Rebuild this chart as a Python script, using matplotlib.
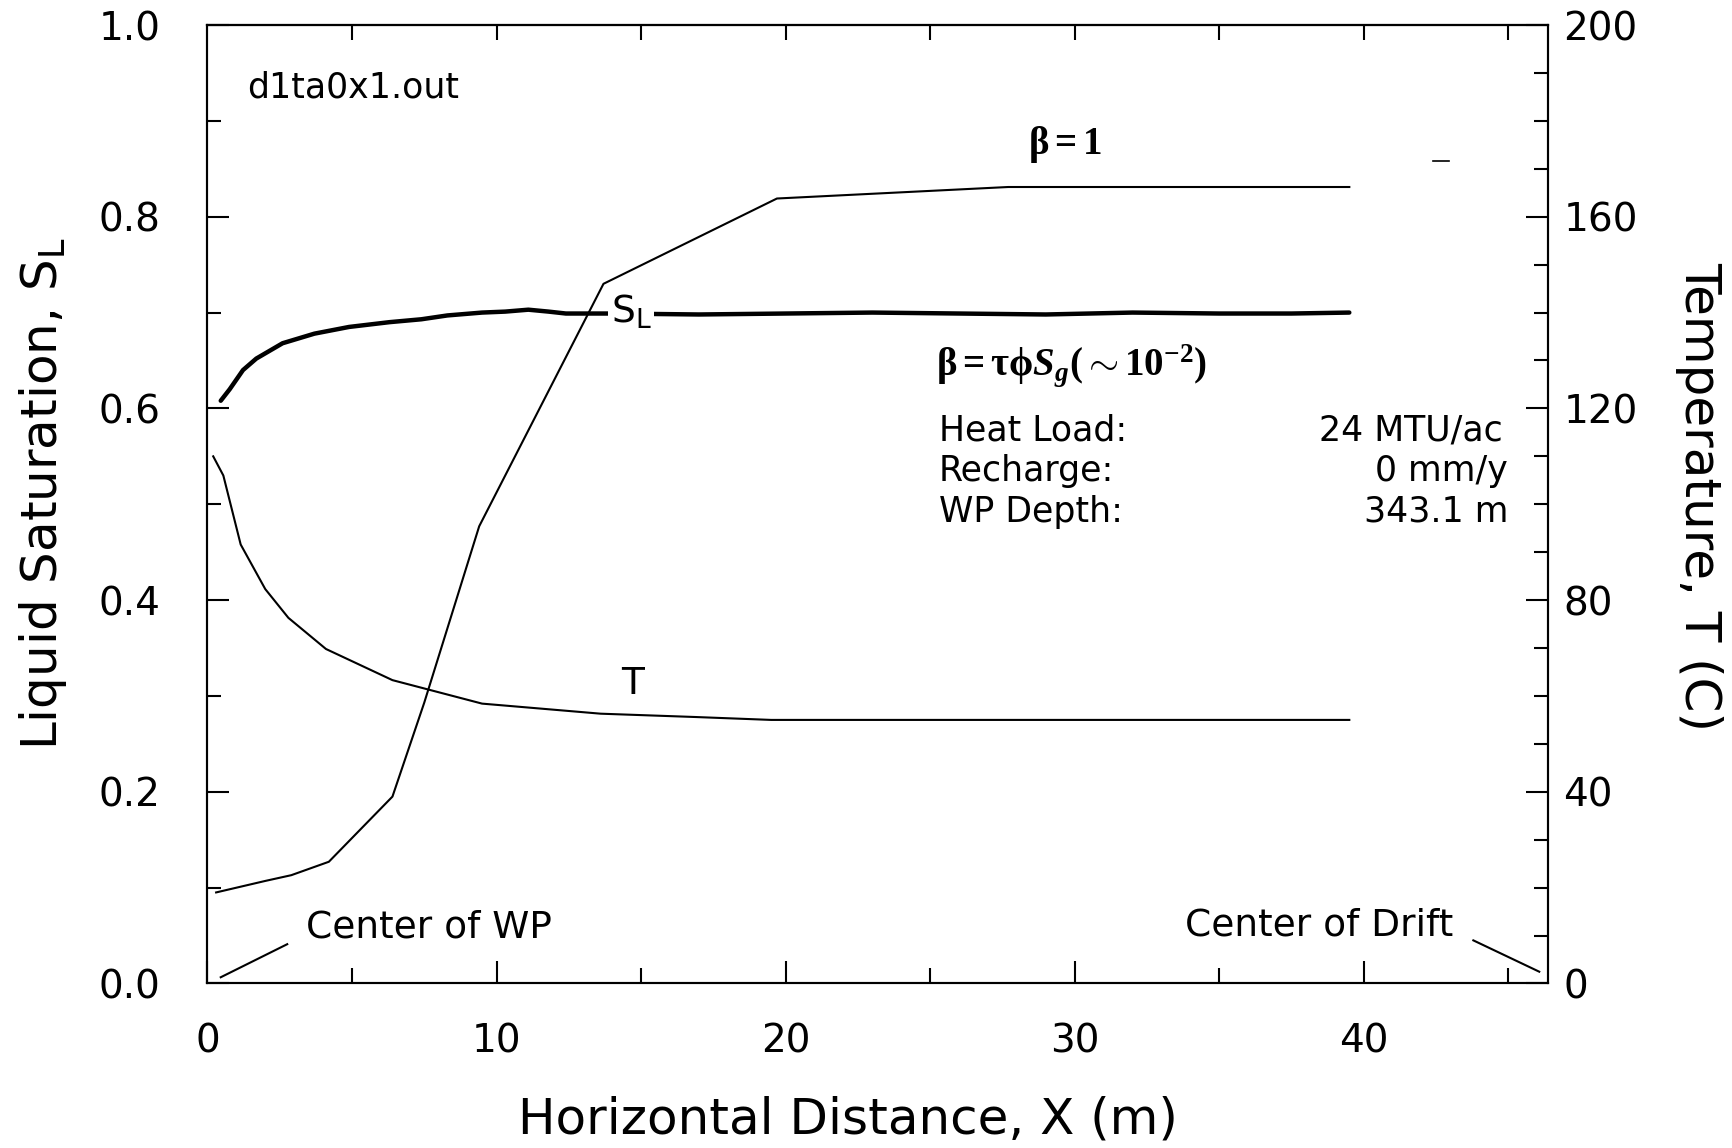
import matplotlib
matplotlib.use("Agg")
import matplotlib.pyplot as plt

# ---------------- data ----------------
# Liquid saturation, beta = tau*phi*Sg (~1e-2)  (thick curve)
x_sl_small = [0.46, 0.77, 1.23, 1.69, 2.6, 3.7, 4.9, 6.3, 7.4, 8.3, 9.5, 10.3,
              11.1, 11.8, 12.4, 14.0, 17.0, 20.0, 23.0, 26.0, 29.0, 32.0,
              35.0, 37.5, 39.5]
sl_small = [0.608, 0.620, 0.640, 0.652, 0.668, 0.678, 0.685, 0.690, 0.693,
            0.697, 0.700, 0.701, 0.703, 0.701, 0.699, 0.699, 0.698, 0.699,
            0.700, 0.699, 0.698, 0.700, 0.699, 0.699, 0.700]

# Liquid saturation, beta = 1  (thin curve)
x_sl_one = [0.3, 2.0, 2.9, 4.2, 6.4, 7.5, 9.4, 13.7, 19.7, 27.7, 39.5]
sl_one = [0.095, 0.107, 0.113, 0.127, 0.195, 0.293, 0.477, 0.730, 0.819,
          0.831, 0.831]

# Temperature (right axis, deg C)
x_temp = [0.2, 0.55, 1.15, 2.0, 2.8, 4.1, 6.4, 9.5, 13.6, 16.9, 19.5, 25.0,
          30.0, 35.0, 39.5]
temp = [110, 106, 91.6, 82.3, 76.3, 69.8, 63.3, 58.4, 56.3, 55.6, 55.0, 55.0,
        55.0, 55.0, 55.0]

x_major = [0, 10, 20, 30, 40]
x_minor = [5, 15, 25, 35, 45]
x_top = [5, 10, 15, 20, 25, 30, 35, 40, 45]
sl_major = [0.0, 0.2, 0.4, 0.6, 0.8, 1.0]
sl_minor = [0.1, 0.3, 0.5, 0.7, 0.9]
t_major = [0, 40, 80, 120, 160, 200]
t_minor = [10, 20, 30, 50, 60, 70, 90, 100, 110, 130, 140, 150, 170, 180, 190]
x_labels = ["0", "10", "20", "30", "40"]
sl_labels = ["0.0", "0.2", "0.4", "0.6", "0.8", "1.0"]
t_labels = ["0", "40", "80", "120", "160", "200"]

# leader lines / small marks for annotations
wp_leader_x = [0.46, 2.76]
wp_leader_y = [0.0065, 0.041]
drift_leader_x = [43.79, 46.07]
drift_leader_y = [0.045, 0.0123]
stray_x = [42.4, 42.95]
stray_y = [0.858, 0.858]

# ---------------- styling ----------------
plt.rcParams['font.family'] = ['DejaVu Sans']
plt.rcParams['mathtext.rm'] = 'Liberation Serif:bold'
plt.rcParams['mathtext.it'] = 'Liberation Serif:italic:bold'
plt.rcParams['mathtext.bf'] = 'Liberation Serif:bold'

W, H = 1733, 1148
fig = plt.figure(figsize=(W / 100, H / 100), dpi=100)
ax = fig.add_axes([0.1197, 0.1433, 0.7735, 0.8349])

lw_thin = 1.5
ax.plot(x_sl_one, sl_one, color='black', lw=lw_thin)
ax.plot(x_sl_small, sl_small, color='black', lw=3.2, solid_capstyle='round')

ax.set_xlim(0, 46.37)
ax.set_ylim(0, 1.0)

ax2 = ax.twinx()
ax2.plot(x_temp, temp, color='black', lw=lw_thin)
ax2.set_ylim(0, 200)

for sp in list(ax.spines.values()) + list(ax2.spines.values()):
    sp.set_linewidth(1.5)

tick_fs = 28
ax.set_xticks(x_major)
ax.set_xticks(x_minor, minor=True)
ax.set_xticklabels(x_labels, fontsize=tick_fs)
ax.set_yticks(sl_major)
ax.set_yticks(sl_minor, minor=True)
ax.set_yticklabels(sl_labels, fontsize=tick_fs)
ax.tick_params(axis='x', which='both', direction='in', bottom=True, top=False,
               width=1.5, pad=28)
ax.tick_params(axis='x', which='major', length=16)
ax.tick_params(axis='x', which='minor', length=11)
ax.tick_params(axis='y', which='both', direction='in', left=True, right=False,
               width=1.5, pad=34)
ax.tick_params(axis='y', which='major', length=16)
ax.tick_params(axis='y', which='minor', length=10)

ax2.set_yticks(t_major)
ax2.set_yticks(t_minor, minor=True)
ax2.set_yticklabels(t_labels, fontsize=tick_fs)
ax2.tick_params(axis='y', which='both', direction='in', right=True, left=False,
                width=1.5, pad=11)
ax2.tick_params(axis='y', which='major', length=16)
ax2.tick_params(axis='y', which='minor', length=10)

sec = ax.secondary_xaxis('top')
sec.set_xticks(x_top)
sec.tick_params(direction='in', length=11, width=1.5, labeltop=False)
sec.spines['top'].set_linewidth(1.5)

# axis titles
fig.text(43 / W, 1 - 494 / H, r'Liquid Saturation, S$_\mathregular{L}$',
         rotation=90, ha='center', va='center', fontsize=36)
fig.text(1699 / W, 1 - 497 / H, 'Temperature, T (C)', rotation=270,
         ha='center', va='center', fontsize=36)
fig.text(848 / W, 1 - 1120 / H, 'Horizontal Distance, X (m)',
         ha='center', va='center', fontsize=36)

# in-plot annotations
txt_fs = 27
ax.text(1.37, 0.935, 'd1ta0x1.out', fontsize=25, ha='left', va='center')
ax.text(29.66, 0.875, r'$\mathrm{\beta=1}$', fontsize=28, ha='center',
        va='center', math_fontfamily='custom')
ax.text(25.2, 0.645, r'$\mathrm{\beta=\tau\phi}S_g\mathrm{(\sim10^{-2})}$',
        fontsize=28, ha='left', va='center', math_fontfamily='custom')
ax.text(25.3, 0.577, 'Heat Load:', fontsize=25, ha='left', va='center')
ax.text(44.8, 0.577, '24 MTU/ac', fontsize=25, ha='right', va='center')
ax.text(25.3, 0.535, 'Recharge:', fontsize=25, ha='left', va='center')
ax.text(45.0, 0.535, '0 mm/y', fontsize=25, ha='right', va='center')
ax.text(25.3, 0.492, 'WP Depth:', fontsize=25, ha='left', va='center')
ax.text(45.0, 0.492, '343.1 m', fontsize=25, ha='right', va='center')

ax.text(13.95, 0.701, r'S$_\mathregular{L}$', fontsize=txt_fs, ha='left',
        va='center',
        bbox=dict(facecolor='white', edgecolor='none', pad=1.5))
ax.text(14.7, 0.312, 'T', fontsize=txt_fs, ha='center', va='center')

ax.text(3.4, 0.058, 'Center of WP', fontsize=txt_fs, ha='left', va='center')
ax.plot(wp_leader_x, wp_leader_y, color='black', lw=lw_thin)
ax.text(43.1, 0.060, 'Center of Drift', fontsize=txt_fs, ha='right',
        va='center')
ax.plot(drift_leader_x, drift_leader_y, color='black', lw=lw_thin,
        clip_on=False)
ax.plot(stray_x, stray_y, color='black', lw=1.2)

fig.savefig('out.png', dpi=100)
